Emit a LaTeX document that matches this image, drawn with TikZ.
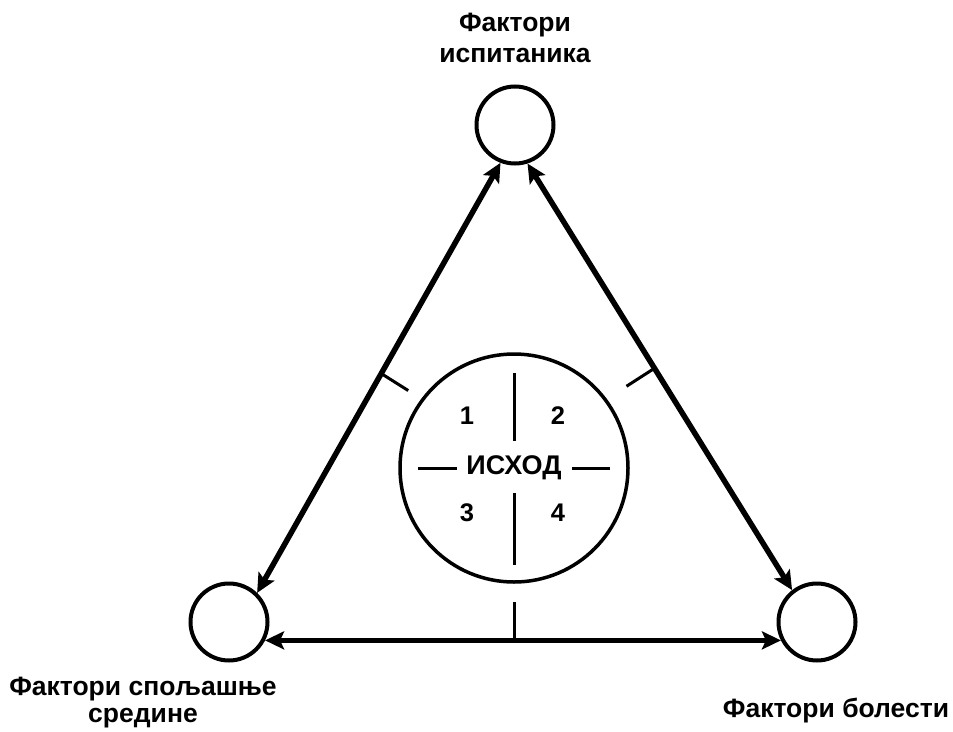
\documentclass[tikz,border=0pt]{standalone}
\usepackage{fontspec}
\setmainfont{Liberation Sans}
\usetikzlibrary{arrows.meta,calc}

\begin{document}
\begin{tikzpicture}[x=1pt,y=-1pt,
  factor/.style={circle, draw, line width=4pt, minimum size=77pt, inner sep=0pt},
  outcome/.style={circle, draw, line width=3.5pt, minimum size=228pt, inner sep=0pt},
  link/.style={line width=5.5pt, {Stealth[length=19pt,width=18pt,inset=4pt]}-{Stealth[length=19pt,width=18pt,inset=4pt]}},
  tickmark/.style={line width=3pt},
  quad/.style={line width=3pt},
  lbl/.style={font=\fontsize{26.5}{31}\selectfont\bfseries, align=center, inner sep=0pt},
  num/.style={font=\fontsize{25.5}{30}\selectfont\bfseries, inner sep=0pt},
  ]
  \useasboundingbox (0,0) rectangle (953,731);

  % the three factor circles and the outcome circle
  \node[factor]  (top)    at (515,125) {};
  \node[factor]  (left)   at (229,622) {};
  \node[factor]  (right)  at (817,622) {};
  \node[outcome] (centre) at (514,468) {};

  % labels
  \node[lbl, anchor=north] (ltop) at (515,13) {Фактори\\испитаника};
  \node[lbl, font=\fontsize{26.5}{27}\selectfont\bfseries, anchor=north] (lleft) at (143,677) {Фактори спољашње\\средине};
  \node[lbl, anchor=base] (lright) at (836,717) {Фактори болести};

  % double-headed connectors
  \draw[link] (top.-111) -- (left.46)
    coordinate[pos=0.49] (mleft);
  \draw[link] (top.-72) -- (right.128)
    coordinate[pos=0.48] (mright);
  \draw[link] (left.-27) -- (right.207)
    coordinate[pos=0.5] (mbottom);

  % ticks pointing towards the outcome circle
  \draw[tickmark] (mleft) -- ++(27,17);
  \draw[tickmark] (mright) -- ++(-28,18);
  \draw[tickmark] (centre |- mbottom) -- ++(0,-38);

  % inside the outcome circle
  \node[num, font=\fontsize{27}{30}\selectfont\bfseries] (word) at (centre) {ИСХОД};
  \draw[quad] ($(centre)+(0,-95)$) -- ($(centre)+(0,-27)$);
  \draw[quad] ($(centre)+(0,25)$) -- ($(centre)+(0,97)$);
  \draw[quad] ($(centre)+(-96,0)$) -- ($(centre)+(-57,0)$);
  \draw[quad] ($(centre)+(58,0)$) -- ($(centre)+(96,0)$);
  \node[num] (n1) at ($(centre)+(-47,-52)$) {1};
  \node[num] (n2) at ($(centre)+(44,-52)$) {2};
  \node[num] (n3) at ($(centre)+(-47,45)$) {3};
  \node[num] (n4) at ($(centre)+(44,45)$) {4};
\end{tikzpicture}
\end{document}
